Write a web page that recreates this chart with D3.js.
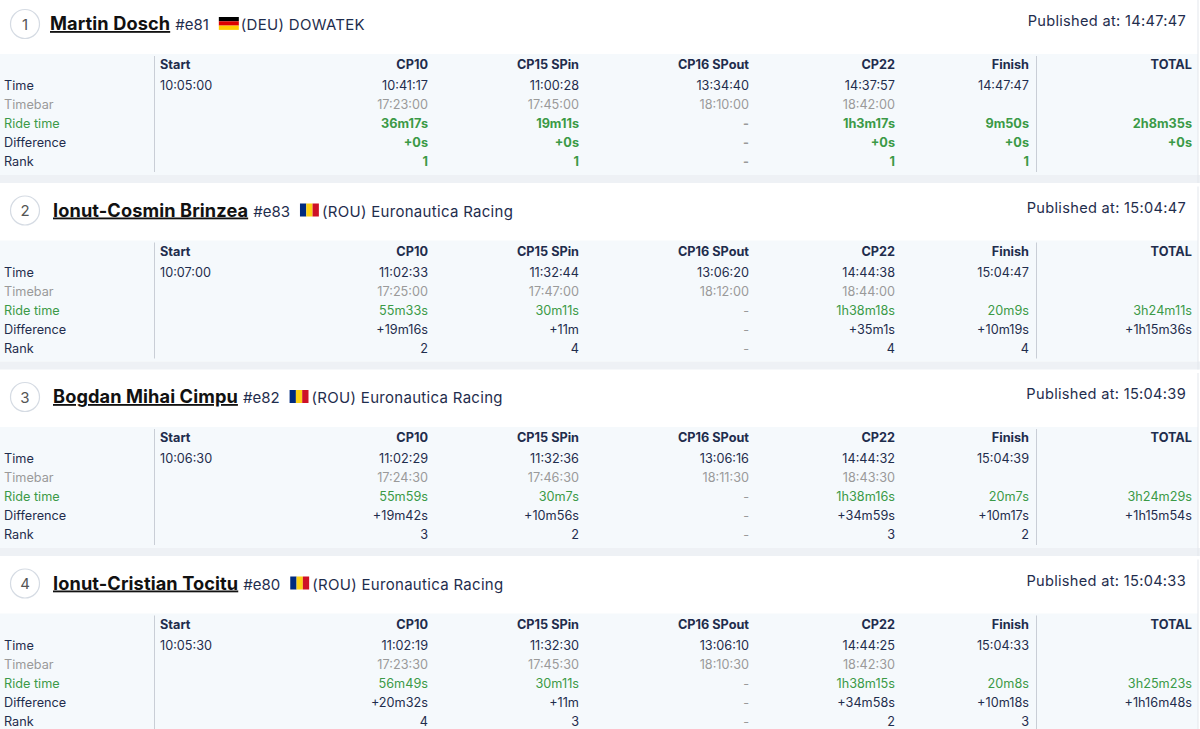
<!DOCTYPE html><html><head><meta charset="utf-8"><script src="https://cdn.jsdelivr.net/npm/d3@7"></script>
<style>body{margin:0;background:#fff}svg{display:block}</style></head><body><svg id="c" width="1200" height="729"></svg>
<script>
const ranks=[1,2,3,4];
const names=["Martin Dosch","Ionut-Cosmin Brinzea","Bogdan Mihai Cimpu","Ionut-Cristian Tocitu"];
const bibs=["#e81","#e83","#e82","#e80"];
const countries=["DEU","ROU","ROU","ROU"];
const teams=["DOWATEK","Euronautica Racing","Euronautica Racing","Euronautica Racing"];
const published=["14:47:47","15:04:47","15:04:39","15:04:33"];
const columns=["Start","CP10","CP15 SPin","CP16 SPout","CP22","Finish","TOTAL"];
const rowLabels=["Time","Timebar","Ride time","Difference","Rank"];
const times=[["10:05:00","10:41:17","11:00:28","13:34:40","14:37:57","14:47:47",""],
["10:07:00","11:02:33","11:32:44","13:06:20","14:44:38","15:04:47",""],
["10:06:30","11:02:29","11:32:36","13:06:16","14:44:32","15:04:39",""],
["10:05:30","11:02:19","11:32:30","13:06:10","14:44:25","15:04:33",""]];
const timebars=[["","17:23:00","17:45:00","18:10:00","18:42:00","",""],
["","17:25:00","17:47:00","18:12:00","18:44:00","",""],
["","17:24:30","17:46:30","18:11:30","18:43:30","",""],
["","17:23:30","17:45:30","18:10:30","18:42:30","",""]];
const rideTimes=[["","36m17s","19m11s","-","1h3m17s","9m50s","2h8m35s"],
["","55m33s","30m11s","-","1h38m18s","20m9s","3h24m11s"],
["","55m59s","30m7s","-","1h38m16s","20m7s","3h24m29s"],
["","56m49s","30m11s","-","1h38m15s","20m8s","3h25m23s"]];
const diffs=[["","+0s","+0s","-","+0s","+0s","+0s"],
["","+19m16s","+11m","-","+35m1s","+10m19s","+1h15m36s"],
["","+19m42s","+10m56s","-","+34m59s","+10m17s","+1h15m54s"],
["","+20m32s","+11m","-","+34m58s","+10m18s","+1h16m48s"]];
const rankVals=[["","1","1","-","1","1",""],
["","2","4","-","4","4",""],
["","3","2","-","3","2",""],
["","4","3","-","2","3",""]];

const svg=d3.select("#c");
const F="Inter, 'Noto Sans', sans-serif";
const navy="#1f2d4d",green="#3b9a47",grey="#9a9a9a";
const cardY=d3.scaleLinear().domain([0,1]).range([0,186.5]);
const colX=d3.scaleOrdinal().domain(columns).range([160,428,579,749,895,1029,1192]);
const rowY=d3.scaleOrdinal().domain(["head",...rowLabels]).range([64,85,104,123,142,161]);
ranks.forEach((r,i)=>{
  const g=svg.append("g").attr("transform",`translate(0,${cardY(i)})`);
  g.append("rect").attr("x",0).attr("y",54).attr("width",1198).attr("height",121).attr("fill","#f5f9fc");
  g.append("rect").attr("x",0).attr("y",175).attr("width",1200).attr("height",8).attr("fill","#eef1f5");
  g.append("line").attr("x1",1198).attr("x2",1198).attr("y1",0).attr("y2",183).attr("stroke","#e3e7ec");
  g.append("circle").attr("cx",25).attr("cy",24).attr("r",14.5).attr("fill","#fff").attr("stroke","#d5dbe3").attr("stroke-width",1.2);
  g.append("text").attr("x",25).attr("y",29.5).attr("text-anchor","middle").attr("font-family",F).attr("font-size",15).attr("fill","#555").text(r);
  const x0=i==0?50:53;
  const nm=g.append("text").attr("x",x0).attr("y",30).attr("font-family",F).attr("font-size",18.2).attr("font-weight",700).attr("letter-spacing",0.1).attr("fill","#111").attr("text-decoration","underline").text(names[i]);
  const w=nm.node().getComputedTextLength();
  let x=x0+w+5;
  const bt=g.append("text").attr("x",x).attr("y",30).attr("font-family",F).attr("font-size",15).attr("fill",navy).text(bibs[i]);
  x+=bt.node().getComputedTextLength()+10;
  const fc=countries[i]=="DEU"?["#000","#d00","#fc0"]:["#002b7f","#fcd116","#ce1126"];
  fc.forEach((c,k)=>{
    if(countries[i]=="DEU") g.append("rect").attr("x",x).attr("y",17+k*4.3).attr("width",20).attr("height",4.3).attr("fill",c);
    else g.append("rect").attr("x",x+k*6.3).attr("y",17).attr("width",6.3).attr("height",13).attr("fill",c);
  });
  g.append("text").attr("x",x+22).attr("y",30).attr("font-family",F).attr("font-size",15).attr("letter-spacing",0.3).attr("fill",navy).text(`(${countries[i]}) ${teams[i]}`);
  g.append("text").attr("x",1186).attr("y",26).attr("text-anchor","end").attr("font-family",F).attr("font-size",14.6).attr("letter-spacing",0.3).attr("fill",navy).text("Published at: "+published[i]);
  g.append("line").attr("x1",154.5).attr("x2",154.5).attr("y1",56).attr("y2",172).attr("stroke","#c9ced6");
  g.append("line").attr("x1",1036.5).attr("x2",1036.5).attr("y1",56).attr("y2",172).attr("stroke","#c9ced6");
  const fs=12.7;
  columns.forEach((c,k)=>g.append("text").attr("x",colX(c)).attr("y",rowY("head")+5).attr("text-anchor",k==0?"start":"end")
    .attr("font-family",F).attr("font-size",fs).attr("font-weight",700).attr("fill",navy).text(c));
  const lc=[navy,grey,green,navy,navy];
  rowLabels.forEach((l,k)=>g.append("text").attr("x",4).attr("y",rowY(l)+5).attr("font-family",F).attr("font-size",fs).attr("fill",lc[k]).text(l));
  const rowsData=[times[i],timebars[i],rideTimes[i],diffs[i],rankVals[i]];
  rowsData.forEach((vals,k)=>{
    const l=rowLabels[k];
    vals.forEach((v,j)=>{
      if(!v)return;
      let col=lc[k],bold=false;
      if(i==0&&k>=2){col=green;bold=true;}
      if(v=="-")col=grey;
      g.append("text").attr("x",colX(columns[j])).attr("y",rowY(l)+5).attr("text-anchor",j==0?"start":"end")
       .attr("font-family",F).attr("font-size",fs).attr("font-weight",bold?700:400).attr("fill",col).text(v);
    });
  });
});
</script></body></html>
